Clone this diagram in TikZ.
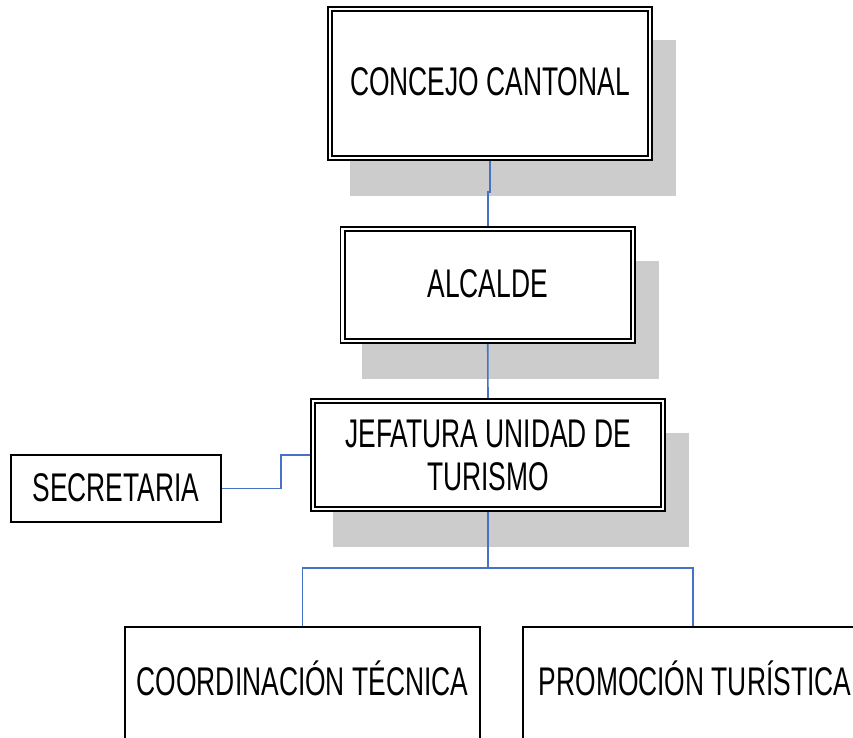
\documentclass[tikz,border=0pt]{standalone}
\usepackage{fontspec}
\newfontfamily\nfont[FakeStretch=0.66]{Liberation Sans}
\pgfdeclarelayer{bg}
\pgfsetlayers{bg,main}
\definecolor{conn}{HTML}{4472C4}
\definecolor{shade}{HTML}{CCCCCC}
\tikzset{
  orgtext/.style={font=\nfont\fontsize{40}{43}\selectfont, inner sep=0pt, outer sep=0pt},
  dblbox/.style={orgtext, draw=black, line width=1.8pt, double=white, double distance=2.4pt, fill=white, text height=29pt, text depth=4pt},
  sglbox/.style={orgtext, draw=black, line width=2pt, fill=white, text height=29pt, text depth=4pt},
  link/.style={draw=conn, line width=1.6pt},
  shadowbox/.style={fill=shade, draw=none}
}
\begin{document}
\begin{tikzpicture}[x=1pt,y=-1pt]
\useasboundingbox (0,0) rectangle (853,738);
\clip (0,0) rectangle (853,738);

\node[dblbox, minimum width=320pt, minimum height=149pt] (concejo) at (490,83.5) {CONCEJO CANTONAL};
\node[dblbox, minimum width=290.5pt, minimum height=112pt] (alcalde) at (487.75,285) {ALCALDE};
\node[dblbox, minimum width=350pt, minimum height=108pt, align=center, text height=, text depth=] (jefatura) at (488,455) {JEFATURA UNIDAD DE\\TURISMO};
\node[sglbox, minimum width=210pt, minimum height=67pt] (secre) at (116,488.5) {SECRETARIA};
\node[sglbox, minimum width=355pt, minimum height=112pt] (coord) at (302.5,683) {COORDINACIÓN TÉCNICA};
\node[sglbox, minimum width=344pt, minimum height=112pt] (promo) at (695,683) {PROMOCIÓN TURÍSTICA};

\begin{pgfonlayer}{bg}
  \fill[white] (0,0) rectangle (853,738);
  \foreach \b in {concejo,alcalde,jefatura}{
    \path[shadowbox] ([shift={(19.5,31.5)}]\b.north west) rectangle ([shift={(25.5,37.5)}]\b.south east);
  }
  \draw[link] (concejo.south) -- ++(0,34) -| (alcalde.north);
  \draw[link] (alcalde.south) -- (jefatura.north);
  \draw[link] (secre.east) -- ++(60,0) |- (jefatura.west);
  \draw[link] (jefatura.south) -- ++(0,59) -| (coord.north);
  \draw[link] (jefatura.south) -- ++(0,59) -| ([xshift=-2pt]promo.north);
\end{pgfonlayer}
\end{tikzpicture}
\end{document}
